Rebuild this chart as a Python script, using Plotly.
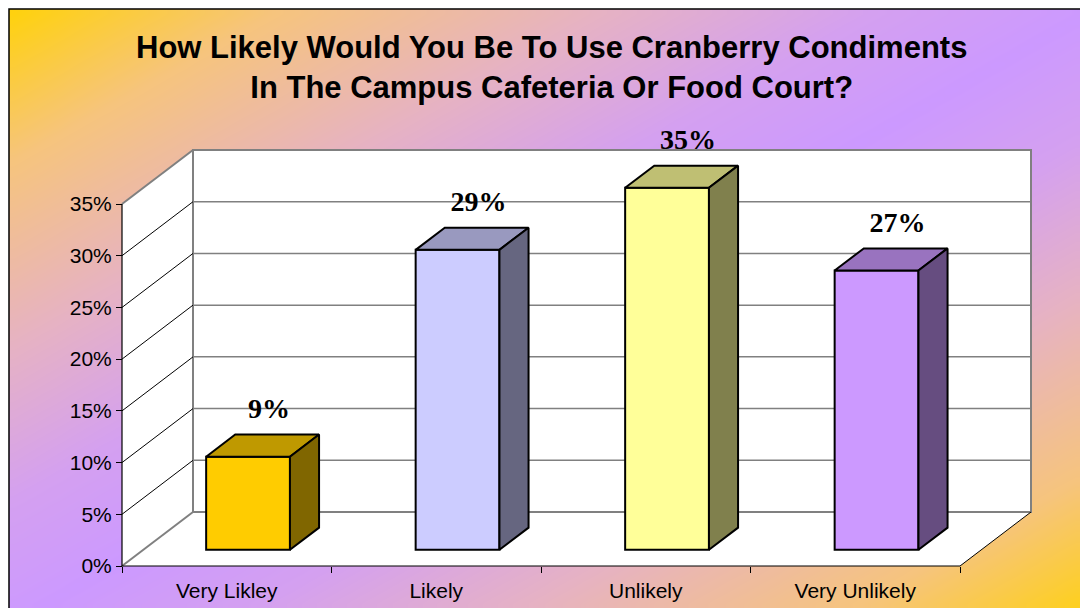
import numpy as np
import plotly.graph_objects as go

# ---- survey results ----
categories = ["Very Likley", "Likely", "Unlikely", "Very Unlikely"]
shares = [9, 29, 35, 27]
front_colors = ["#FFCC00", "#CCCCFF", "#FFFF99", "#CC99FF"]
top_colors = ["#BF9900", "#9999BF", "#BFBF73", "#9973BF"]
side_colors = ["#806600", "#666680", "#80804D", "#664D80"]
y_ticks = [0, 5, 10, 15, 20, 25, 30, 35]
y_tick_text = [f"{v}%" for v in y_ticks]
title_text = ("How Likely Would You Be To Use Cranberry Condiments<br>"
              "In The Campus Cafeteria Or Food Court?")

# ---- page / projection geometry ----
W, H = 1080, 608
FX0, FX1 = 122, 960          # front plane, left/right (px)
FY0, FYTOP = 566, 204        # front plane, 0% / top (px)
YMAX = 35
NCAT = len(categories)
PX_CAT = (FX1 - FX0) / NCAT
PX_PCT = (FY0 - FYTOP) / YMAX
DX = 71 / PX_CAT             # depth of the box, in category units
DY = 54 / PX_PCT             # depth of the box, in percent units
F0, F1 = 0.30, 0.71          # front / back depth of each bar
BAR_W = 0.4

def px_x(p):
    return (np.asarray(p, dtype=float) - FX0) / PX_CAT

def px_y(p):
    return (FY0 - np.asarray(p, dtype=float)) / PX_PCT

XR = [float(px_x(0)), float(px_x(W))]
YR = [float(px_y(H)), float(px_y(0))]

SANS = "Liberation Sans, Arial, sans-serif"
SERIF = "Liberation Serif, Times New Roman, serif"

fig = go.Figure()

# ---- diagonal gradient backdrop (gold corners, lilac diagonal) ----
bx0, by0, bw, bh = 9, 9, 1086, 616
ex = np.linspace(bx0, W, 121)
ey = np.linspace(by0, H, 71)
cx = (ex[:-1] + ex[1:]) / 2
cy = (ey[:-1] + ey[1:]) / 2
t = ((cx[None, :] - bx0) / bw + (cy[:, None] - by0) / bh) / 2
zbg = 1 - np.abs(2 * t - 1)
fig.add_trace(go.Heatmap(
    x=px_x(ex), y=px_y(ey), z=zbg, zsmooth="best", showscale=False,
    zmin=0, zmax=1, hoverinfo="skip",
    colorscale=[[0.0, "rgb(255,210,10)"], [0.25, "rgb(246,196,125)"],
                [0.55, "rgb(230,178,195)"], [0.8, "rgb(212,160,240)"],
                [1.0, "rgb(204,153,255)"]],
    xaxis="x", yaxis="y"))


def polygon(xs, ys, fill, line_color="black", lw=0, axes=("x", "y")):
    fig.add_trace(go.Scatter(
        x=list(xs) + [xs[0]], y=list(ys) + [ys[0]], mode="lines",
        fill="toself", fillcolor=fill,
        line=dict(color=line_color, width=lw), hoverinfo="skip",
        showlegend=False, xaxis=axes[0], yaxis=axes[1]))


def segments(pairs, color, lw, axes=("x", "y")):
    xs, ys = [], []
    for (x0, y0), (x1, y1) in pairs:
        xs += [x0, x1, None]
        ys += [y0, y1, None]
    fig.add_trace(go.Scatter(
        x=xs, y=ys, mode="lines", line=dict(color=color, width=lw),
        hoverinfo="skip", showlegend=False, xaxis=axes[0], yaxis=axes[1]))


# ---- walls and floor of the 3-D box ----
polygon([0, 0, DX, DX], [0, YMAX, YMAX + DY, DY], "white")
polygon([0, NCAT, NCAT + DX, DX], [0, 0, DY, DY], "white")
polygon([DX, NCAT + DX, NCAT + DX, DX], [DY, DY, YMAX + DY, YMAX + DY],
        "white", "#808080", 2)
segments([((DX, v + DY), (NCAT + DX, v + DY)) for v in y_ticks[1:-1]],
         "#808080", 1.5)
segments([((0, v), (DX, v + DY)) for v in y_ticks[1:-1]], "black", 1)
segments([((0, 0), (DX, DY)), ((0, YMAX), (DX, YMAX + DY))], "#808080", 2)
segments([((NCAT, 0), (NCAT + DX, DY))], "black", 1)
segments([((0, YMAX), (0, 0)), ((0, 0), (NCAT, 0))], "black", 1.2)

# ---- bars: front faces ----
B = ("x2", "y2")
fig.add_trace(go.Bar(
    x=[i + 0.5 + F0 * DX for i in range(NCAT)], y=shares, base=F0 * DY,
    width=BAR_W, marker=dict(color=front_colors,
                             line=dict(color="black", width=2)),
    hoverinfo="skip", showlegend=False, xaxis="x2", yaxis="y2"))

# ---- bars: top and side faces ----
for i, v in enumerate(shares):
    xl = i + 0.5 - BAR_W / 2
    xr = i + 0.5 + BAR_W / 2
    polygon([xl + F0 * DX, xr + F0 * DX, xr + F1 * DX, xl + F1 * DX],
            [v + F0 * DY, v + F0 * DY, v + F1 * DY, v + F1 * DY],
            top_colors[i], "black", 2, B)
    polygon([xr + F0 * DX, xr + F1 * DX, xr + F1 * DX, xr + F0 * DX],
            [F0 * DY, F1 * DY, v + F1 * DY, v + F0 * DY],
            side_colors[i], "black", 2, B)

# ---- value labels ----
fig.add_trace(go.Scatter(
    x=[i + 0.5 + F0 * DX + 0.1 for i in range(NCAT)],
    y=[v + F0 * DY + 4.4 for v in shares],
    text=[f"{v}%" for v in shares], mode="text",
    textfont=dict(family=SERIF, size=28, color="black", weight="bold"),
    hoverinfo="skip", showlegend=False, xaxis="x2", yaxis="y2"))

# ---- title ----
fig.add_annotation(
    text=title_text, xref="paper", yref="paper",
    x=551 / W, y=1 - 68 / H, xanchor="center", yanchor="middle",
    showarrow=False,
    font=dict(family=SANS, size=31, color="black", weight="bold"))

# ---- chart border ----
fig.add_shape(type="rect", xref="paper", yref="paper",
              x0=9 / W, x1=1.1, y0=-0.1, y1=1 - 9 / H,
              line=dict(color="black", width=1.5), layer="above")

fig.update_layout(
    width=W, height=H, margin=dict(l=0, r=0, t=0, b=0),
    paper_bgcolor="white", plot_bgcolor="rgba(0,0,0,0)",
    showlegend=False, barmode="overlay",
    xaxis=dict(range=XR, anchor="free", position=(H - FY0) / H,
               tickvals=[i + 0.5 for i in range(NCAT)], ticktext=categories,
               ticks="", showline=False, showgrid=False, zeroline=False,
               ticklabelstandoff=10,
               tickfont=dict(family=SANS, size=21, color="black"),
               minor=dict(tickvals=list(range(NCAT + 1)), ticks="outside",
                          ticklen=6, tickwidth=1, tickcolor="black",
                          showgrid=False),
               fixedrange=True),
    yaxis=dict(range=YR, anchor="free", position=FX0 / W,
               tickvals=y_ticks, ticktext=y_tick_text, ticks="outside",
               ticklen=6, tickwidth=1, tickcolor="black",
               showline=False, showgrid=False, zeroline=False,
               tickfont=dict(family=SANS, size=21, color="black"),
               fixedrange=True),
    xaxis2=dict(range=XR, overlaying="x", anchor="y2", visible=False,
                fixedrange=True),
    yaxis2=dict(range=YR, overlaying="y", anchor="x2", visible=False,
                fixedrange=True),
)

fig.write_html("out.html")
